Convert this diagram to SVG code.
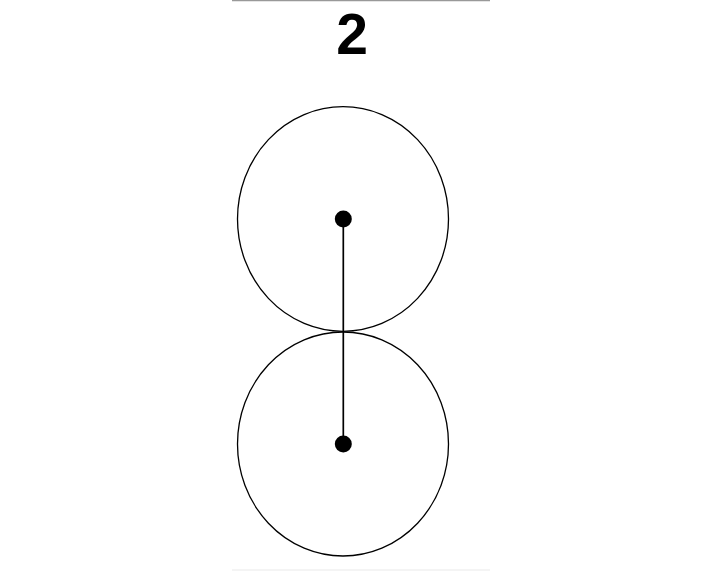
<svg xmlns="http://www.w3.org/2000/svg" width="720" height="576" viewBox="0 0 720 576">
<style>
.ring{fill:none;stroke:#000;stroke-width:1.3}
.dot{fill:#000}
.edge{stroke:#000;stroke-width:1.7;fill:none}
.rule{stroke:#999;stroke-width:1.5}
.title{font-family:"Liberation Sans",Arial,sans-serif;font-weight:bold;font-size:57px;fill:#000}
</style>
<rect width="720" height="576" fill="#fff"/>
<line class="rule" x1="232" y1="0.5" x2="490" y2="0.5"/>
<line x1="232" y1="570" x2="490" y2="570" stroke="#f0f0f0" stroke-width="1.5"/>
<text class="title" x="352" y="54" text-anchor="middle">2</text>
<g id="connectors">
<line class="edge" x1="343.3" y1="219" x2="343.3" y2="444"/>
</g>
<g id="node1">
<ellipse class="ring" cx="343" cy="219" rx="105.5" ry="112.3"/>
<circle class="dot" cx="343.3" cy="219" r="8.5"/>
</g>
<g id="node2">
<ellipse class="ring" cx="343" cy="444" rx="105.5" ry="112"/>
<circle class="dot" cx="343.3" cy="444" r="8.5"/>
</g>
</svg>
